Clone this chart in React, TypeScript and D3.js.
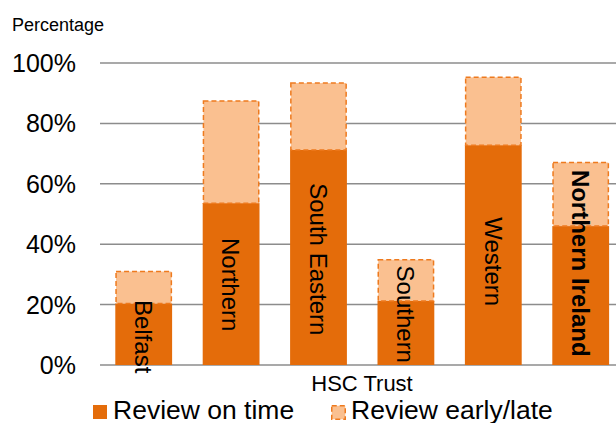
import * as d3 from 'd3'
import { useEffect, useRef } from 'react'

// HSC Trust categories and shares (percent)
const trusts = ['Belfast', 'Northern', 'South Eastern', 'Southern', 'Western', 'Northern Ireland']
const onTime = [20.4, 53.6, 71.2, 21.2, 72.8, 46.0]
const earlyLate = [10.8, 34.1, 22.4, 13.9, 22.7, 21.3]
// where each category label sits along its bar (percent)
const labelAt = [9.4, 26.6, 35.0, 16.8, 34.2, 33.7]
const yTicks = [0, 20, 40, 60, 80, 100]
const seriesNames = ['Review on time', 'Review early/late']

const DARK = '#E46C0A'
const LIGHT = '#FAC090'
const EDGE = '#EE7A1E'

const App = () => {
  const svgRef = useRef<SVGSVGElement>(null)

  useEffect(() => {
    const svg = d3.select(svgRef.current)
    svg.selectAll('*').remove()
    const font = 'Liberation Sans, Arial, sans-serif'

    const x = d3.scaleBand().domain(trusts).range([100, 624.4]).paddingInner(0.35).paddingOuter(0.175)
    const y = d3.scaleLinear().domain([0, 100]).range([365, 63])

    // gridlines
    svg
      .selectAll('.grid')
      .data(yTicks)
      .enter()
      .append('line')
      .attr('x1', 100)
      .attr('x2', 616)
      .attr('y1', (d) => y(d))
      .attr('y2', (d) => y(d))
      .attr('stroke', '#8c8c8c')
      .attr('stroke-width', 1.5)

    // tick labels
    svg
      .selectAll('.tick')
      .data(yTicks)
      .enter()
      .append('text')
      .attr('x', 76)
      .attr('y', (d) => y(d))
      .attr('dy', '0.36em')
      .attr('text-anchor', 'end')
      .style('font-family', font)
      .style('font-size', '25px')
      .style('fill', '#000')
      .text((d) => `${d}%`)

    const rows = trusts.map((t, i) => ({ trust: t, onTime: onTime[i], earlyLate: earlyLate[i] }))
    const stacked = d3.stack<any>().keys(['onTime', 'earlyLate'])(rows)

    // on time
    svg
      .selectAll('.bar-on')
      .data(stacked[0])
      .enter()
      .append('rect')
      .attr('x', (d) => x(d.data.trust)!)
      .attr('y', (d) => y(d[1]))
      .attr('width', x.bandwidth())
      .attr('height', (d) => y(d[0]) - y(d[1]))
      .attr('fill', DARK)

    // early/late
    svg
      .selectAll('.bar-late')
      .data(stacked[1])
      .enter()
      .append('rect')
      .attr('x', (d) => x(d.data.trust)! + 0.75)
      .attr('y', (d) => y(d[1]) + 0.75)
      .attr('width', x.bandwidth() - 1.5)
      .attr('height', (d) => y(d[0]) - y(d[1]) - 0.75)
      .attr('fill', LIGHT)
      .attr('stroke', EDGE)
      .attr('stroke-width', 1.5)
      .attr('stroke-dasharray', '5,3')

    // category labels, rotated
    svg
      .selectAll('.cat')
      .data(trusts)
      .enter()
      .append('text')
      .attr('transform', (d, i) => `translate(${x(d)! + x.bandwidth() / 2},${y(labelAt[i])}) rotate(90)`)
      .attr('dy', '0.36em')
      .attr('text-anchor', 'middle')
      .style('font-family', font)
      .style('font-size', '24px')
      .style('font-weight', (d, i) => (i === trusts.length - 1 ? 'bold' : 'normal'))
      .style('fill', '#000')
      .text((d) => d)

    // axis titles
    svg
      .append('text')
      .attr('x', 12)
      .attr('y', 31)
      .style('font-family', font)
      .style('font-size', '18px')
      .text('Percentage')

    svg
      .append('text')
      .attr('x', 362)
      .attr('y', 391)
      .attr('text-anchor', 'middle')
      .style('font-family', font)
      .style('font-size', '22px')
      .text('HSC Trust')

    // legend
    const legendX = [93, 331]
    seriesNames.forEach((name, i) => {
      const g = svg.append('g').attr('transform', `translate(${legendX[i]},405)`)
      if (i === 0) {
        g.append('rect').attr('width', 14).attr('height', 14).attr('fill', DARK)
      } else {
        g.append('rect')
          .attr('x', 0.75)
          .attr('y', 0.75)
          .attr('width', 13.5)
          .attr('height', 13.5)
          .attr('fill', LIGHT)
          .attr('stroke', EDGE)
          .attr('stroke-width', 1.5)
          .attr('stroke-dasharray', '5,3')
      }
      g.append('text')
        .attr('x', 20)
        .attr('y', 14)
        .style('font-family', font)
        .style('font-size', '26.5px')
        .text(name)
    })
  }, [])

  return (
    <svg
      ref={svgRef}
      width={616}
      height={423}
      style={{ position: 'absolute', left: 0, top: 0, background: '#fff' }}
    ></svg>
  )
}

export default App
